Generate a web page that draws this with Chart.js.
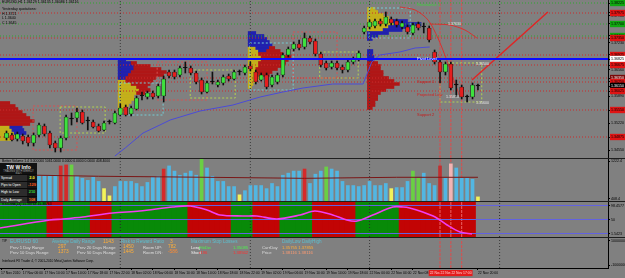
<!DOCTYPE html>
<html lang="ru">
<head>
<meta charset="utf-8">
<title>EURUSD H1</title>
<script src="https://cdn.jsdelivr.net/npm/chart.js@4.4.1/dist/chart.umd.min.js"></script>
<style>
    body { margin: 0; width: 625px; height: 278px; background: #1e1e1e; position: relative; overflow: hidden; font-family: "Liberation Sans", Arial, sans-serif; }
    canvas { position: absolute; left: 0; background: #808080; }
    #notes { position: absolute; left: 0; top: 0; width: 625px; height: 278px; pointer-events: none; }
    .txt { position: absolute; white-space: nowrap; line-height: 1; }
    #twBox { position: absolute; left: 0; top: 163px; width: 37px; height: 38px; background: #121212; color: #fff; font-size: 3.4px; }
    #twBox .head { text-align: center; font-size: 5px; font-weight: bold; padding-top: 1px; height: 6px; }
    #twBox .sub { text-align: center; font-size: 2.6px; color: #aaa; height: 4px; }
    #twBox .row { position: relative; height: 6.2px; line-height: 6.2px; background: #2c2c2c; border-top: 1px solid #0a0a0a; padding-left: 1px; }
    #twBox .row b { position: absolute; right: 0; top: 0; width: 10px; text-align: center; background: #161616; font-size: 4px; }
</style>
</head>
<body>
<canvas id="mainChart" width="625" height="158" style="top:0"></canvas>
<canvas id="volChart" width="625" height="42" style="top:159px"></canvas>
<canvas id="oscChart" width="625" height="35" style="top:202px"></canvas>
<canvas id="infoChart" width="625" height="40" style="top:238px"></canvas>
<div id="notes"></div>
<div id="twBox">
    <div class="head">TW W Info</div>
    <div class="sub">TRADING WITH WEEKLY INFO</div>
    <div class="row">Spread<b style="color:#ffff30">2.0</b></div>
    <div class="row">Pips to Open<b style="color:#ff5a1e">-129</b></div>
    <div class="row">High to Low<b style="color:#3cdc3c">210</b></div>
    <div class="row">Daily Average<b style="color:#ff7a30">108</b></div>
</div>
<script>
// Шрифт для всех подписей
const FONT = "'Liberation Sans', Arial, sans-serif";

// Диапазон оси X (номер бара) и цены
const X_MIN = -1.2;
const X_MAX = 111;
const P_MIN = 1.3435;
const P_MAX = 1.3830;

// Свечи EURUSD H1, бар 0 = 17 Nov 02:00
const opens = [
    1.3485, 1.34925, 1.34825, 1.3490, 1.34875, 1.34725, 1.34925, 1.3515, 1.34975, 1.34725,
    1.3460, 1.3485, 1.35325, 1.3535, 1.3550, 1.35275, 1.3525, 1.3515, 1.3505, 1.3525,
    1.35225, 1.35425, 1.35625, 1.3545, 1.35575, 1.3590, 1.35875, 1.35975, 1.3590, 1.3590,
    1.3650, 1.3650, 1.36425, 1.3660, 1.3660, 1.36475, 1.3630, 1.3600, 1.3625, 1.36175,
    1.36225, 1.3640, 1.36325, 1.3650, 1.36475, 1.3665, 1.3650, 1.3630, 1.36425, 1.36175,
    1.3625, 1.36425, 1.36925, 1.37075, 1.3720, 1.37125, 1.3735, 1.37275, 1.3695, 1.36725,
    1.36625, 1.36725, 1.36625, 1.3655, 1.3675, 1.36825, 1.3750, 1.37625, 1.3765, 1.37775,
    1.3770, 1.37825, 1.37775, 1.37625, 1.37625, 1.37475, 1.3770, 1.37625, 1.3760, 1.3700,
    1.3675, 1.3650, 1.3670, 1.36175, 1.36125, 1.35875, 1.35875, 1.3615
];
const highs = [
    1.35025, 1.34975, 1.3500, 1.3495, 1.34925, 1.34975, 1.35225, 1.3520, 1.35025, 1.34775,
    1.3490, 1.35425, 1.35475, 1.3560, 1.3555, 1.35375, 1.3530, 1.3520, 1.35275, 1.3530,
    1.35525, 1.3570, 1.35675, 1.3565, 1.3590, 1.3600, 1.36025, 1.36025, 1.3620, 1.3640,
    1.3655, 1.3655, 1.3665, 1.3675, 1.3665, 1.36525, 1.3635, 1.36275, 1.3650, 1.3630,
    1.36425, 1.3645, 1.3655, 1.3655, 1.36675, 1.3675, 1.3655, 1.36475, 1.36475, 1.36425,
    1.36475, 1.36975, 1.37125, 1.3725, 1.3730, 1.37475, 1.3740, 1.37325, 1.3700, 1.36775,
    1.36775, 1.36775, 1.36675, 1.3680, 1.36875, 1.37025, 1.3765, 1.3780, 1.37825, 1.37825,
    1.3800, 1.37875, 1.37825, 1.37775, 1.37675, 1.37725, 1.3775, 1.37725, 1.3765, 1.3705,
    1.3680, 1.3675, 1.3675, 1.3630, 1.36175, 1.35925, 1.36225, 1.3620
];
const lows = [
    1.3480, 1.34775, 1.34775, 1.3470, 1.3465, 1.3465, 1.34875, 1.3490, 1.3460, 1.3450,
    1.3450, 1.3480, 1.35175, 1.3525, 1.3520, 1.3505, 1.3510, 1.3500, 1.35025, 1.3520,
    1.3520, 1.3540, 1.3540, 1.3540, 1.3555, 1.3580, 1.35825, 1.35825, 1.3585, 1.3575,
    1.3635, 1.36325, 1.36375, 1.36475, 1.36425, 1.3620, 1.3595, 1.35975, 1.3620, 1.36125,
    1.36175, 1.36275, 1.3630, 1.36425, 1.36425, 1.36525, 1.3620, 1.36275, 1.36075, 1.36125,
    1.3620, 1.36375, 1.36875, 1.37025, 1.3705, 1.37075, 1.3720, 1.3690, 1.36625, 1.3655,
    1.36575, 1.3655, 1.36475, 1.3650, 1.3670, 1.36775, 1.3745, 1.37575, 1.3760, 1.3765,
    1.3765, 1.37675, 1.37625, 1.37575, 1.3745, 1.37425, 1.3755, 1.37475, 1.3725, 1.3670,
    1.36225, 1.36425, 1.3605, 1.35875, 1.35825, 1.3575, 1.35825, 1.3605
];
const closes = [
    1.34975, 1.3480, 1.3495, 1.34775, 1.34725, 1.34925, 1.35175, 1.3495, 1.34675, 1.3460,
    1.3485, 1.35375, 1.35325, 1.3550, 1.35225, 1.35275, 1.35125, 1.35025, 1.35225, 1.3525,
    1.35475, 1.3560, 1.35425, 1.3560, 1.3585, 1.3590, 1.35975, 1.35875, 1.3615, 1.36325,
    1.3640, 1.36375, 1.3660, 1.3660, 1.36475, 1.3625, 1.3600, 1.36225, 1.3625, 1.3625,
    1.36375, 1.36325, 1.3650, 1.3650, 1.36625, 1.36575, 1.3625, 1.36425, 1.36125, 1.36375,
    1.36425, 1.36925, 1.37075, 1.3720, 1.3710, 1.3735, 1.3725, 1.3695, 1.36675, 1.3660,
    1.36725, 1.3660, 1.3655, 1.3675, 1.36825, 1.36975, 1.3760, 1.3775, 1.37775, 1.3770,
    1.37875, 1.37725, 1.37675, 1.37725, 1.3750, 1.37675, 1.3760, 1.37625, 1.3730, 1.3675,
    1.3650, 1.3670, 1.3610, 1.36175, 1.35875, 1.35875, 1.36175, 1.3615
];

// Синяя скользящая средняя: бар и цена
const maBar = [20.0, 21.9, 25.2, 28.3, 30.2, 35.7, 41.8, 46.8, 51.0, 54.7, 60.2, 65.8, 67.4, 68.9, 72.6, 75.4, 78.1];
const maPrice = [1.3440, 1.3460, 1.34975, 1.35175, 1.3530, 1.35525, 1.35675, 1.35875, 1.3600, 1.3610, 1.3620, 1.3620, 1.3675, 1.36925, 1.3700, 1.3710, 1.37125];

// Красные кривые справа
const curve1Bar = [72.6, 75.4, 77.8, 79.6, 81.1, 82.4, 83.7];
const curve1Price = [1.38125, 1.3805, 1.3780, 1.3735, 1.3685, 1.3635, 1.35875];
const curve2Bar = [78.1, 81.8, 84.6, 86.8];
const curve2Price = [1.3770, 1.37675, 1.3755, 1.3735];

// Красная трендовая линия
const trendBar = [85.9, 99.9];
const trendPrice = [1.3630, 1.3800];

// Горизонтальные уровни: g - зелёный, r - красный, d - тёмно-красный, p - пивот, c - текущая цена
const levelPrice = [1.38225, 1.37975, 1.3770, 1.3740, 1.3735, 1.36925, 1.36825, 1.36675, 1.3635, 1.3625, 1.3615, 1.36025, 1.3555, 1.34875];
const levelKind = ["g", "r", "g", "g", "r", "r", "p", "r", "d", "r", "c", "r", "r", "r"];

// Обычные деления шкалы цен
const axisPrices = [1.3790, 1.3723, 1.3656, 1.3589, 1.3522, 1.3455];

// Пунктирные прямоугольники: [от бара, до бара, верх, низ, цвет]
const boxes = [
    [9.9, 18.2, 1.35625, 1.34975, "g"],
    [4.9, 13.0, 1.3565, 1.3455, "r"],
    [20.9, 28.9, 1.36225, 1.35425, "c"],
    [33.9, 42.2, 1.3655, 1.3585, "g"],
    [27.8, 37.0, 1.3675, 1.3580, "r"],
    [52.9, 61.0, 1.3750, 1.3635, "r"],
    [57.8, 64.9, 1.3700, 1.3635, "g"],
    [44.9, 52.9, 1.37225, 1.3605, "c"],
    [66.9, 74.5, 1.3810, 1.3735, "c"],
    [80.0, 87.7, 1.36725, 1.3575, "g"]
];

// Профиль рынка: [цена, от бара, до бара]
const profRed = [
    [1.35725, -1.2, 0.6], [1.3565, -1.2, 1.6], [1.35575, -1.2, 2.1], [1.3550, -1.2, 2.9],
    [1.35425, -1.2, 3.6], [1.3535, -1.2, 4.3], [1.35275, -1.2, 5.1], [1.3520, -1.2, 4.3],
    [1.36725, 23.0, 24.0], [1.3665, 23.5, 26.5], [1.36575, 23.5, 28.5], [1.3650, 23.0, 29.5],
    [1.36425, 22.5, 29.0], [1.3635, 22.0, 27.5], [1.36275, 22.0, 27.0], [1.3620, 23.0, 26.5],
    [1.36125, 24.0, 26.0], [1.3605, 24.5, 26.5], [1.35975, 24.0, 25.5],
    [1.3710, 48.5, 49.5], [1.37025, 48.0, 50.5], [1.3695, 46.5, 51.0], [1.36875, 47.0, 52.5],
    [1.3680, 47.0, 52.0], [1.36725, 46.5, 51.5], [1.3665, 46.5, 51.0], [1.36575, 46.0, 50.0],
    [1.3650, 46.0, 49.0], [1.36425, 46.5, 48.5],
    [1.36725, 66.6, 68.5], [1.3665, 66.6, 69.0], [1.36575, 66.6, 69.0], [1.3650, 66.6, 69.5],
    [1.36425, 66.6, 69.5], [1.3635, 66.6, 70.5], [1.36275, 66.6, 71.5], [1.3620, 66.6, 72.5],
    [1.36125, 66.6, 71.5], [1.3605, 66.6, 70.0], [1.35975, 66.6, 69.0], [1.3590, 66.6, 68.5],
    [1.35825, 66.6, 68.5], [1.3575, 66.6, 68.0], [1.35675, 66.6, 68.0], [1.3560, 66.6, 67.5]
];
const profBlue = [
    [1.35125, 0.6, 2.9], [1.3505, 1.0, 3.2], [1.34975, 1.4, 3.6], [1.3490, 1.8, 2.5],
    [1.3680, 20.6, 22.0], [1.36725, 20.6, 23.0], [1.3665, 20.6, 23.5], [1.36575, 20.6, 23.5],
    [1.3650, 20.6, 23.0], [1.36425, 20.6, 22.5], [1.3635, 20.6, 22.0],
    [1.37475, 44.6, 46.0], [1.3740, 44.6, 47.5], [1.37325, 44.6, 48.0], [1.3725, 44.6, 48.5],
    [1.37175, 44.6, 49.0], [1.3710, 46.0, 48.5], [1.37025, 46.5, 48.0],
    [1.37775, 71.0, 74.0], [1.3770, 71.5, 76.5], [1.37625, 70.5, 75.0], [1.3755, 69.5, 73.0],
    [1.37475, 66.6, 70.5], [1.3740, 66.6, 68.5], [1.37325, 66.6, 67.5],
    [1.37025, 66.6, 67.6], [1.3695, 66.6, 67.6], [1.36875, 66.6, 67.8], [1.3680, 66.6, 67.8]
];
const profYellow = [
    [1.35125, -1.2, 0.6], [1.3505, -1.2, 1.0], [1.34975, -1.2, 1.4], [1.3490, -1.2, 1.8], [1.34825, -1.2, 1.0],
    [1.36275, 20.6, 22.0], [1.3620, 20.6, 23.0], [1.36125, 20.6, 24.0], [1.3605, 20.6, 24.5],
    [1.35975, 20.6, 24.0], [1.3590, 20.6, 23.5], [1.35825, 20.6, 23.5], [1.3575, 20.6, 23.0],
    [1.35675, 20.6, 22.5], [1.3560, 20.6, 22.0], [1.35525, 20.6, 21.5],
    [1.3710, 44.6, 46.0], [1.37025, 44.6, 46.5], [1.3695, 44.6, 46.5], [1.36875, 44.6, 47.0],
    [1.3680, 44.6, 47.0], [1.36725, 44.6, 46.5], [1.3665, 44.6, 46.5], [1.36575, 44.6, 46.0],
    [1.3650, 44.6, 46.0], [1.36425, 44.6, 46.5], [1.3635, 44.6, 46.5], [1.36275, 44.6, 46.0],
    [1.3620, 44.6, 45.5], [1.36125, 44.6, 45.2],
    [1.38075, 66.6, 68.0], [1.3800, 66.6, 68.5], [1.37925, 66.6, 69.5], [1.3785, 66.6, 70.5],
    [1.37775, 66.6, 71.0], [1.3770, 66.6, 71.5], [1.37625, 66.6, 70.5], [1.3755, 66.6, 69.5]
];

// Разделители дней и красные вертикальные линии
const daySeparators = [21, 45, 67, 91];
const redLines = [80, 82, 84];

// Объёмы (Better Volume), первые бары закрыты панелью TW
const volumes = [
    null, null, null, null, null, null, 888, 888, 888, 908,
    1088, 1108, 1108, 888, 848, 808, 868, 788, 648, 508,
    688, 788, 788, 788, 748, 688, 768, 868, 888, 1028,
    1088, 988, 908, 948, 988, 908, 1228, 1048, 888, 788,
    788, 688, 688, 528, 608, 708, 708, 708, 648, 748,
    688, 908, 948, 988, 988, 1028, 748, 928, 988, 1068,
    1028, 988, 788, 708, 708, 688, 708, 788, 708, 708,
    748, 648, 668, 668, 788, 988, 848, 948, 748, 708,
    1088, 848, 1128, 1048, 848, 848, 828, 488
];
const volKind = [
    "b", "b", "b", "b", "b", "b", "b", "b", "b", "b",
    "r", "r", "g", "b", "b", "b", "b", "b", "y", "y",
    "b", "b", "b", "b", "b", "b", "b", "b", "b", "r",
    "b", "b", "b", "b", "b", "b", "g", "b", "b", "b",
    "b", "b", "b", "y", "b", "b", "b", "b", "b", "b",
    "b", "b", "b", "b", "b", "r", "b", "b", "b", "g",
    "b", "b", "b", "b", "b", "b", "b", "b", "b", "b",
    "b", "y", "b", "b", "b", "g", "g", "b", "b", "b",
    "d", "b", "p", "b", "b", "b", "b", "y"
];
const volMaBar = [5.6, 17, 37, 55, 72, 87];
const volMaValue = [908, 888, 868, 848, 868, 868];
const volTickPos = [1180, 450];
const volTickText = ["1222.4", "408.4"];

// Осциллятор: зоны (от бара, до бара, цвет), линия и уровни
const zoneFrom = [-1, 8, 11, 16, 20, 34, 42, 46, 51, 57, 65, 73];
const zoneTo = [7, 10, 15, 19, 33, 41, 45, 50, 56, 64, 72, 86];
const zoneKind = ["g", "r", "g", "r", "g", "r", "g", "r", "g", "r", "g", "r"];
const oscBar = [-1.2, 8, 10.4, 14.1, 19.6, 24.6, 30.7, 33.9, 37, 39.4, 43.6, 46.2, 49.9, 54.2, 56.9, 60.2, 62.8, 64.7, 67.6, 71.3, 73.2, 74.4, 76.8, 79.1, 81.3, 83.7, 85.9];
const oscValue = [25.7, 48.6, 51.4, 57.1, 68.6, 74.3, 85.7, 88.6, 77.1, 62.9, 60.0, 60.0, 51.4, 62.9, 74.3, 62.9, 48.6, 45.7, 62.9, 85.7, 85.7, 82.9, 71.4, 57.1, 34.3, 14.3, 8.6];
const oscLevels = [90, 50, 10];
const oscTickText = ["98.4577", "50", "1.5423"];

// Шкала времени
const timePos = [-1, 3, 7, 11, 15, 19, 23, 27, 31, 35, 39, 43, 47, 51, 55, 59, 63, 67, 71, 75, 87];
const timeText = [
    "17 Nov 2010", "17 Nov 06:00", "17 Nov 10:00", "17 Nov 14:00", "17 Nov 18:00", "17 Nov 22:00",
    "18 Nov 02:00", "18 Nov 06:00", "18 Nov 10:00", "18 Nov 14:00", "18 Nov 18:00", "18 Nov 22:00",
    "19 Nov 02:00", "19 Nov 06:00", "19 Nov 10:00", "19 Nov 14:00", "19 Nov 18:00",
    "22 Nov 00:00", "22 Nov 04:00", "22 Nov 08:00", "22 Nov 20:00"
];
const redLineText = ["22 Nov 13:00", "22 Nov 15:00", "22 Nov 17:00"];

// Цвета
const colors = {
    bull: "#3ee23e", bear: "#e61e1e", doji: "#000000",
    levelG: "#2ea82e", levelR: "#cc2a2a", pivot: "#0a0aff",
    box: { g: "#b4d250", r: "#d85050", c: "#74ccd4" },
    vol: { b: "#52b6e2", r: "#d42a2a", g: "#6ad044", y: "#f2f25a", d: "#c03030", p: "#f2b4b4" },
    zone: { g: "#088a08", r: "#c20404" },
    labelBg: { g: "#10a810", r: "#e01414", d: "#7a0a0a", p: "#ffffff", c: "#000000" },
    labelFg: { g: "#000", r: "#000", d: "#fff", p: "#000", c: "#fff" }
};

// Текстовые подписи: [x, y, текст, цвет, размер]
const notes = [
    [2, 0.5, "EURUSD,H1  1.36129 1.36135 1.36086 1.36116", "#000", 3.6],
    [2, 8, "Yesterday quotations:", "#000", 3.6],
    [2, 12.5, "H 1.3721", "#000", 3.6],
    [2, 17, "L 1.3640", "#000", 3.6],
    [2, 21.5, "C 1.3645", "#000", 3.6],
    [417, 3, "Resistance 1", "#3ed23e", 4],
    [417, 57, "Pivot Level", "#ffffff", 4],
    [417, 79.5, "Support 1", "#c41a1a", 4],
    [417, 92.5, "Projected Low", "#d42020", 4],
    [417, 112.5, "Support 2", "#c41a1a", 4],
    [448, 23, "1.37630", "#e8e8e8", 3.6],
    [476, 63, "1.36500", "#e8e8e8", 3.6],
    [446, 95.5, "1.35850", "#e8e8e8", 3.6],
    [476, 102, "1.35600", "#e8e8e8", 3.6],
    [2, 159.8, "Better Volume 1.4 3.000000 1061.0000 0.0000 0.0000 0.0000 408.4000", "#000", 3.4],
    [2, 203.2, "RSIOMA(14) 15.38763 15.38763", "#000", 3.4],
    [2, 240, "TIP", "#000", 3.2],
    [10, 239, "EURUSD 60", "#5bbfcf", 5],
    [52, 239.5, "Average Daily Range", "#5bbfcf", 4.6],
    [103, 239, "1143", "#ffae38", 5],
    [121, 239.5, "Risk to Reward Ratio", "#5bbfcf", 4.6],
    [170, 239, "3", "#ffae38", 5],
    [191, 239.5, "Maximum Stop Losses", "#5bbfcf", 4.6],
    [282, 239.5, "DailyLow  DailyHigh", "#5bbfcf", 4.6],
    [10, 245.5, "Prev 1 Day Range", "#dcdcdc", 4.2],
    [58, 245, "297", "#ffae38", 4.8],
    [77, 245.5, "Prev 20 Days Range", "#dcdcdc", 4.2],
    [123, 245, "1450", "#ffae38", 4.8],
    [143, 245.5, "Room UP:", "#dcdcdc", 4.2],
    [168, 245, "782", "#ffae38", 4.8],
    [191, 245.5, "Long", "#f0f0f0", 4.2],
    [199, 245.5, "FibDw", "#4ef04e", 4.2],
    [233, 245.5, "1.35085", "#4ef04e", 4.2],
    [262, 245.5, "CurrDay", "#dcdcdc", 4.2],
    [282, 245.5, "1.35755 1.37855", "#ffae38", 4.2],
    [10, 250.5, "Prev 10 Days Range", "#dcdcdc", 4.2],
    [58, 250, "1373", "#ffae38", 4.8],
    [77, 250.5, "Prev 50 Days Range", "#dcdcdc", 4.2],
    [123, 250, "1445", "#ffae38", 4.8],
    [143, 250.5, "Room DN:", "#dcdcdc", 4.2],
    [168, 250, "-586", "#ff8a30", 4.8],
    [191, 250.5, "Short", "#f0f0f0", 4.2],
    [199, 250.5, "r196", "#ff3030", 4.2],
    [233, 250.5, "1.38562", "#ff3030", 4.2],
    [262, 250.5, "Price", "#dcdcdc", 4.2],
    [282, 250.5, "1.38116 1.38116", "#ff9a70", 4.2],
    [2, 259.5, "Interbank FX Trader 4, © 2001-2010 MetaQuotes Software Corp.", "#000", 3.2]
];

// ---------- Вспомогательные функции ----------
function pts(xs, ys) {
    return xs.map((x, i) => ({ x: x, y: ys[i] }));
}

function lineDs(data, color, width, dash, order, tension) {
    return {
        type: "line", data: data, borderColor: color, borderWidth: width, borderDash: dash || [],
        pointRadius: 0, fill: false, tension: tension || 0, order: order
    };
}

function vLines(xs, yMin, yMax, color, dash, order) {
    return xs.map(x => lineDs([{ x: x, y: yMin }, { x: x, y: yMax }], color, 1, dash, order));
}

function profileSet(rows, color) {
    return {
        type: "bar", indexAxis: "y", grouped: false,
        data: rows.map(r => ({ y: r[0], x: [r[1], r[2]] })),
        backgroundColor: color, barThickness: 3, borderWidth: 0, order: 20
    };
}

function baseOptions(scales) {
    return {
        responsive: false, animation: false, events: [], devicePixelRatio: 1,
        layout: { padding: 0 },
        plugins: { legend: { display: false }, tooltip: { enabled: false } },
        scales: scales
    };
}

function hiddenX() {
    return { type: "linear", min: X_MIN, max: X_MAX, offset: false, display: false, grid: { offset: false } };
}

function rightAxis(min, max, tickPos, labelFn, tickOpts) {
    return {
        type: "linear", position: "right", min: min, max: max, offset: false, beginAtZero: false,
        afterFit: s => { s.width = 17; s.paddingTop = 0; s.paddingBottom = 0; },
        afterBuildTicks: s => { s.ticks = tickPos.map(v => ({ value: v })); },
        grid: { drawOnChartArea: false, tickLength: 2, color: "#000", offset: false },
        border: { display: true, color: "#000" },
        ticks: Object.assign({
            autoSkip: false, padding: 1, color: "#000",
            font: { family: FONT, size: 3.6 }, callback: labelFn
        }, tickOpts || {})
    };
}

function levelOf(ctx) {
    return ctx.tick ? levelPrice.indexOf(ctx.tick.value) : -1;
}

function candleColor(i) {
    if (closes[i] > opens[i]) return colors.bull;
    if (closes[i] < opens[i]) return colors.bear;
    return colors.doji;
}

// ---------- Основной график ----------
function buildMainChart() {
    const sets = [];
    sets.push(profileSet(profRed, "#b01616"));
    sets.push(profileSet(profBlue, "#2020ae"));
    sets.push(profileSet(profYellow, "#c4b01a"));

    levelPrice.forEach((p, k) => {
        const kind = levelKind[k];
        if (kind === "c") return;
        if (kind === "p") {
            sets.push(lineDs(pts([X_MIN, X_MAX], [p, p]), colors.pivot, 2, [], 1));
        } else {
            sets.push(lineDs(pts([X_MIN, X_MAX], [p, p]), kind === "g" ? colors.levelG : colors.levelR, 1, [1, 2], 15));
        }
    });

    boxes.forEach(b => {
        sets.push(lineDs(pts([b[0], b[1], b[1], b[0], b[0]], [b[2], b[2], b[3], b[3], b[2]]), colors.box[b[4]], 1, [2, 2], 14));
    });

    vLines(daySeparators, P_MIN, P_MAX, "#3a3a3a", [1, 2], 13).forEach(d => sets.push(d));
    vLines(redLines, P_MIN, P_MAX, "rgba(228,70,70,0.9)", [3, 1], 13).forEach(d => sets.push(d));

    sets.push(lineDs(pts(maBar, maPrice), "#4b4bd6", 1, [], 12));
    sets.push(lineDs(pts(curve1Bar, curve1Price), "#d83030", 1, [], 12, 0.3));
    sets.push(lineDs(pts(curve2Bar, curve2Price), "#d83030", 1, [], 12, 0.3));

    const idx = opens.map((o, i) => i);
    sets.push({
        type: "bar", grouped: false, order: 3,
        data: idx.map(i => ({ x: i, y: [lows[i], highs[i]] })),
        backgroundColor: "#101010", barThickness: 1
    });
    sets.push({
        type: "bar", grouped: false, order: 2,
        data: idx.map(i => ({ x: i, y: [opens[i], closes[i]] })),
        backgroundColor: idx.map(candleColor), borderColor: "#1a1a1a", borderWidth: 0.7,
        borderSkipped: false, barThickness: 4, minBarLength: 1
    });

    sets.push(lineDs(pts(trendBar, trendPrice), "#e02424", 1.5, [], 1));

    const yTicks = axisPrices.concat(levelPrice);
    new Chart(document.getElementById("mainChart"), {
        type: "bar",
        data: { datasets: sets },
        options: baseOptions({
            x: hiddenX(),
            y: rightAxis(P_MIN, P_MAX, yTicks, v => Number(v).toFixed(5), {
                color: ctx => { const k = levelOf(ctx); return k >= 0 ? colors.labelFg[levelKind[k]] : "#000"; },
                showLabelBackdrop: ctx => levelOf(ctx) >= 0,
                backdropColor: ctx => { const k = levelOf(ctx); return k >= 0 ? colors.labelBg[levelKind[k]] : "rgba(0,0,0,0)"; },
                backdropPadding: { top: 1, bottom: 1, left: 1, right: 4 }
            })
        })
    });
}

// ---------- Объёмы ----------
function buildVolumeChart() {
    const sets = [];
    vLines(daySeparators, 0, 2000, "#3a3a3a", [1, 2], 5).forEach(d => sets.push(d));
    vLines(redLines, 0, 2000, "rgba(228,70,70,0.9)", [3, 1], 5).forEach(d => sets.push(d));
    sets.push({
        type: "bar", grouped: false, order: 2,
        data: volumes.map((v, i) => ({ x: i, y: v })),
        backgroundColor: volKind.map(k => colors.vol[k]), barThickness: 3
    });
    sets.push(lineDs(pts(volMaBar, volMaValue), "#7a1616", 1, [], 1));

    new Chart(document.getElementById("volChart"), {
        type: "bar",
        data: { datasets: sets },
        options: baseOptions({
            x: hiddenX(),
            y: rightAxis(408.4, 1222.4, volTickPos, (v, i) => volTickText[i])
        })
    });
}

// ---------- Осциллятор ----------
function buildOscChart() {
    const zoneData = [];
    const zoneColors = [];
    zoneFrom.forEach((from, z) => {
        for (let i = from; i <= zoneTo[z]; i++) {
            zoneData.push({ x: i, y: [0, 100] });
            zoneColors.push(colors.zone[zoneKind[z]]);
        }
    });

    const sets = [];
    sets.push({
        type: "bar", grouped: false, order: 10,
        data: zoneData, backgroundColor: zoneColors, barThickness: 6, borderWidth: 0
    });
    vLines(daySeparators, 0, 100, "#2a2a2a", [1, 2], 5).forEach(d => sets.push(d));
    vLines(redLines, 0, 100, "rgba(240,110,110,0.9)", [3, 1], 5).forEach(d => sets.push(d));
    oscLevels.forEach(l => sets.push(lineDs(pts([X_MIN, X_MAX], [l, l]), "#6262e0", 1, [], 4)));
    sets.push(lineDs(pts(oscBar, oscValue), "#f23cf0", 1.6, [], 1, 0.3));

    new Chart(document.getElementById("oscChart"), {
        type: "bar",
        data: { datasets: sets },
        options: baseOptions({
            x: hiddenX(),
            y: rightAxis(0, 100, oscLevels, (v, i) => oscTickText[i])
        })
    });
}

// ---------- Нижняя панель и шкала времени ----------
function buildInfoChart() {
    const redPos = redLines.map(v => v - 1.9);
    const tickPos = timePos.concat(redPos);
    const tickText = timeText.concat(redLineText);
    const isRed = ctx => ctx.tick ? redPos.indexOf(ctx.tick.value) >= 0 : false;

    const sets = [];
    vLines(daySeparators, -1, 1, "#3a3a3a", [1, 2], 5).forEach(d => sets.push(d));
    vLines(redLines, -1, 1, "rgba(228,70,70,0.9)", [3, 1], 5).forEach(d => sets.push(d));

    new Chart(document.getElementById("infoChart"), {
        type: "line",
        data: { datasets: sets },
        options: baseOptions({
            x: {
                type: "linear", min: X_MIN, max: X_MAX, offset: false, position: "bottom",
                afterFit: s => { s.height = 10; s.paddingLeft = 0; s.paddingRight = 0; },
                afterBuildTicks: s => { s.ticks = tickPos.map(v => ({ value: v })); },
                grid: { drawOnChartArea: false, tickLength: 2, color: ctx => isRed(ctx) ? "rgba(0,0,0,0)" : "#000" },
                border: { display: true, color: "#000" },
                ticks: {
                    autoSkip: false, maxRotation: 0, minRotation: 0, align: "start", padding: 1,
                    font: { family: FONT, size: 3.4 },
                    color: ctx => isRed(ctx) ? "#ffd0d0" : "#000",
                    showLabelBackdrop: ctx => isRed(ctx),
                    backdropColor: "#e41c1c",
                    backdropPadding: { top: 1, bottom: 1, left: 1, right: 1 },
                    callback: (v, i) => tickText[i]
                }
            },
            y: rightAxis(-1, 1, [0.8, -0.8], (v, i) => ["1000000", "-1000000"][i])
        })
    });
}

// Текст поверх графиков
function addNotes() {
    const box = document.getElementById("notes");
    notes.forEach(n => {
        const el = document.createElement("div");
        el.className = "txt";
        el.style.left = n[0] + "px";
        el.style.top = n[1] + "px";
        el.style.color = n[3];
        el.style.fontSize = n[4] + "px";
        el.textContent = n[2];
        box.appendChild(el);
    });
}

buildMainChart();
buildVolumeChart();
buildOscChart();
buildInfoChart();
addNotes();
</script>
</body>
</html>
